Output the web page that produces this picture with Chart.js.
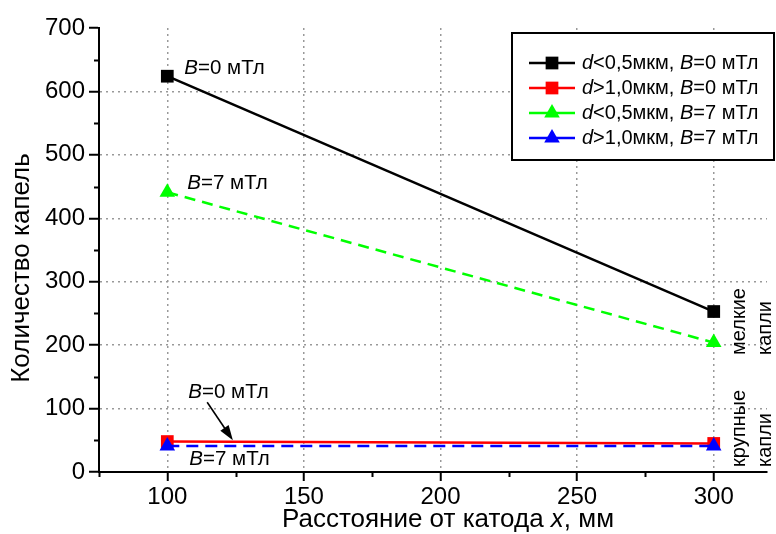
<!DOCTYPE html>
<html>
<head>
<meta charset="utf-8">
<script src="https://cdn.jsdelivr.net/npm/chart.js@4.4.0/dist/chart.umd.min.js"></script>
<style>
html, body { margin: 0; padding: 0; background: #fff; }
#wrap { width: 776px; height: 534px; }
</style>
</head>
<body>
<div id="wrap"><canvas id="dropsChart" width="776" height="534"></canvas></div>
<script>
// данные
const distances = [100, 300];
const smallB0 = [624, 253];
const largeB0 = [48, 45];
const smallB7 = [441, 204];
const largeB7 = [41, 41];

const xTicks = [100, 150, 200, 250, 300];
const xMinorTicks = [75, 125, 175, 225, 275];
const yMinorTicks = [50, 150, 250, 350, 450, 550, 650];

const FONT = '"Liberation Sans", Arial, sans-serif';

function points(values) {
	return distances.map((x, i) => ({ x: x, y: values[i] }));
}

// текст из кусков: [строка, курсив?]
function drawParts(ctx, parts, x, y, size, align) {
	let total = 0;
	parts.forEach(p => {
		ctx.font = (p[1] ? 'italic ' : '') + size + 'px ' + FONT;
		total += ctx.measureText(p[0]).width;
	});
	let cx = align === 'center' ? x - total / 2 : x;
	ctx.textAlign = 'left';
	ctx.textBaseline = 'middle';
	parts.forEach(p => {
		ctx.font = (p[1] ? 'italic ' : '') + size + 'px ' + FONT;
		ctx.fillText(p[0], cx, y);
		cx += ctx.measureText(p[0]).width;
	});
}

const legendItems = [
	{ ds: 0, parts: [['d', true], ['<0,5мкм, ', false], ['B', true], ['=0 мТл', false]] },
	{ ds: 1, parts: [['d', true], ['>1,0мкм, ', false], ['B', true], ['=0 мТл', false]] },
	{ ds: 2, parts: [['d', true], ['<0,5мкм, ', false], ['B', true], ['=7 мТл', false]] },
	{ ds: 3, parts: [['d', true], ['>1,0мкм, ', false], ['B', true], ['=7 мТл', false]] }
];

function drawMarker(ctx, style, x, y, r, color) {
	ctx.fillStyle = color;
	ctx.beginPath();
	if (style === 'rect') {
		const s = Math.SQRT1_2 * r;
		ctx.rect(x - s, y - s, 2 * s, 2 * s);
	} else {
		ctx.moveTo(x, y - r);
		ctx.lineTo(x + r * 0.866, y + r / 2);
		ctx.lineTo(x - r * 0.866, y + r / 2);
		ctx.closePath();
	}
	ctx.fill();
}

const extrasPlugin = {
	id: 'extras',
	afterDraw(chart) {
		const ctx = chart.ctx;
		const xs = chart.scales.x;
		const ys = chart.scales.y;
		const area = chart.chartArea;
		ctx.save();

		// малые засечки
		ctx.strokeStyle = '#000';
		ctx.lineWidth = 2;
		ctx.beginPath();
		xMinorTicks.forEach(v => {
			const px = Math.round(xs.getPixelForValue(v)) + 0.5;
			ctx.moveTo(px, area.bottom);
			ctx.lineTo(px, area.bottom + 5);
		});
		yMinorTicks.forEach(v => {
			const py = Math.round(ys.getPixelForValue(v)) + 0.5;
			ctx.moveTo(area.left, py);
			ctx.lineTo(area.left - 5, py);
		});
		ctx.stroke();

		// подписи к линиям
		ctx.fillStyle = '#000';
		const notes = [
			{ ds: 0, dx: 17, dy: -8, t: '=0 мТл' },
			{ ds: 2, dx: 20, dy: -9, t: '=7 мТл' },
			{ ds: 1, dx: 21, dy: -49, t: '=0 мТл' },
			{ ds: 3, dx: 22, dy: 13, t: '=7 мТл' }
		];
		notes.forEach(n => {
			const pt = chart.getDatasetMeta(n.ds).data[0];
			drawParts(ctx, [['B', true], [n.t, false]], pt.x + n.dx, pt.y + n.dy, 20.5, 'left');
		});

		// стрелка
		const ax1 = xs.getPixelForValue(114.6), ay1 = ys.getPixelForValue(110);
		const ax2 = xs.getPixelForValue(124), ay2 = ys.getPixelForValue(50);
		const ang = Math.atan2(ay2 - ay1, ax2 - ax1);
		ctx.lineWidth = 1.6;
		ctx.beginPath();
		ctx.moveTo(ax1, ay1);
		ctx.lineTo(ax2 - 10 * Math.cos(ang), ay2 - 10 * Math.sin(ang));
		ctx.stroke();
		ctx.beginPath();
		ctx.moveTo(ax2, ay2);
		ctx.lineTo(ax2 - 15 * Math.cos(ang) + 5 * Math.sin(ang), ay2 - 15 * Math.sin(ang) - 5 * Math.cos(ang));
		ctx.lineTo(ax2 - 15 * Math.cos(ang) - 5 * Math.sin(ang), ay2 - 15 * Math.sin(ang) + 5 * Math.cos(ang));
		ctx.closePath();
		ctx.fill();

		// вертикальные подписи справа
		ctx.font = '20px ' + FONT;
		ctx.textAlign = 'left';
		ctx.textBaseline = 'middle';
		[['мелкие', 739, 355], ['капли', 765, 355], ['крупные', 739, 467], ['капли', 765, 467]].forEach(r => {
			ctx.save();
			ctx.translate(r[1], r[2]);
			ctx.rotate(-Math.PI / 2);
			ctx.fillText(r[0], 0, 0);
			ctx.restore();
		});

		// подписи осей
		drawParts(ctx, [['Расстояние от катода ', false], ['x', true], [', мм', false]], 448, 520, 26, 'center');
		ctx.save();
		ctx.translate(22, 268);
		ctx.rotate(-Math.PI / 2);
		drawParts(ctx, [['Количество капель', false]], 0, 0, 26, 'center');
		ctx.restore();

		// легенда
		ctx.fillStyle = '#fff';
		ctx.fillRect(512, 33, 262, 127);
		ctx.strokeStyle = '#000';
		ctx.lineWidth = 2;
		ctx.strokeRect(512, 33, 262, 127);
		legendItems.forEach((item, i) => {
			const ds = chart.data.datasets[item.ds];
			const y = 63 + i * 25;
			ctx.strokeStyle = ds.borderColor;
			ctx.lineWidth = 2.5;
			ctx.beginPath();
			ctx.moveTo(529, y);
			ctx.lineTo(575, y);
			ctx.stroke();
			drawMarker(ctx, ds.pointStyle, 552, y, 9, ds.borderColor);
			ctx.fillStyle = '#000';
			drawParts(ctx, item.parts, 582, y, 20, 'left');
		});

		ctx.restore();
	}
};

const ctx = document.getElementById('dropsChart').getContext('2d');
new Chart(ctx, {
	type: 'line',
	data: {
		datasets: [
			{
				label: 'd<0,5мкм, B=0 мТл',
				data: points(smallB0),
				borderColor: '#000000',
				backgroundColor: '#000000',
				pointStyle: 'rect',
				pointRadius: 9,
				order: 2
			},
			{
				label: 'd>1,0мкм, B=0 мТл',
				data: points(largeB0),
				borderColor: '#ff0000',
				backgroundColor: '#ff0000',
				pointStyle: 'rect',
				pointRadius: 9,
				order: 3
			},
			{
				label: 'd<0,5мкм, B=7 мТл',
				data: points(smallB7),
				borderColor: '#00ff00',
				backgroundColor: '#00ff00',
				borderDash: [11, 7],
				pointStyle: 'triangle',
				pointRadius: 9,
				order: 1
			},
			{
				label: 'd>1,0мкм, B=7 мТл',
				data: points(largeB7),
				borderColor: '#0000ff',
				backgroundColor: '#0000ff',
				borderDash: [12, 7],
				pointStyle: 'triangle',
				pointRadius: 9,
				order: 0
			}
		]
	},
	options: {
		responsive: false,
		animation: false,
		layout: { padding: { top: 28, right: 0, left: 0, bottom: 0 } },
		elements: {
			line: { borderWidth: 2.5, tension: 0 },
			point: { borderWidth: 0 }
		},
		plugins: {
			legend: { display: false },
			tooltip: { enabled: false }
		},
		scales: {
			x: {
				type: 'linear',
				min: 75,
				max: 319.5,
				afterBuildTicks: s => { s.ticks = xTicks.map(v => ({ value: v })); },
				afterFit: s => { s.height = 62; s.paddingRight = 0; s.paddingLeft = 0; },
				ticks: { color: '#000', font: { size: 24, family: FONT }, padding: 2, maxRotation: 0, autoSkip: false },
				grid: { color: '#999', lineWidth: 1.5, tickColor: '#000', tickWidth: 2, tickLength: 9 },
				border: { display: true, color: '#000', width: 2, dash: [2, 4] }
			},
			y: {
				min: 0,
				max: 700,
				afterFit: s => { s.width = 99; s.paddingTop = 0; s.paddingBottom = 0; },
				ticks: { stepSize: 100, color: '#000', font: { size: 24, family: FONT }, padding: 4 },
				grid: {
					color: c => (c.tick && (c.tick.value === 700 || c.tick.value === 0)) ? 'rgba(0,0,0,0)' : '#999',
					lineWidth: 1.5,
					tickColor: '#000',
					tickWidth: 2,
					tickLength: 10
				},
				border: { display: true, color: '#000', width: 2, dash: [2, 4] }
			}
		}
	},
	plugins: [extrasPlugin]
});
</script>
</body>
</html>
